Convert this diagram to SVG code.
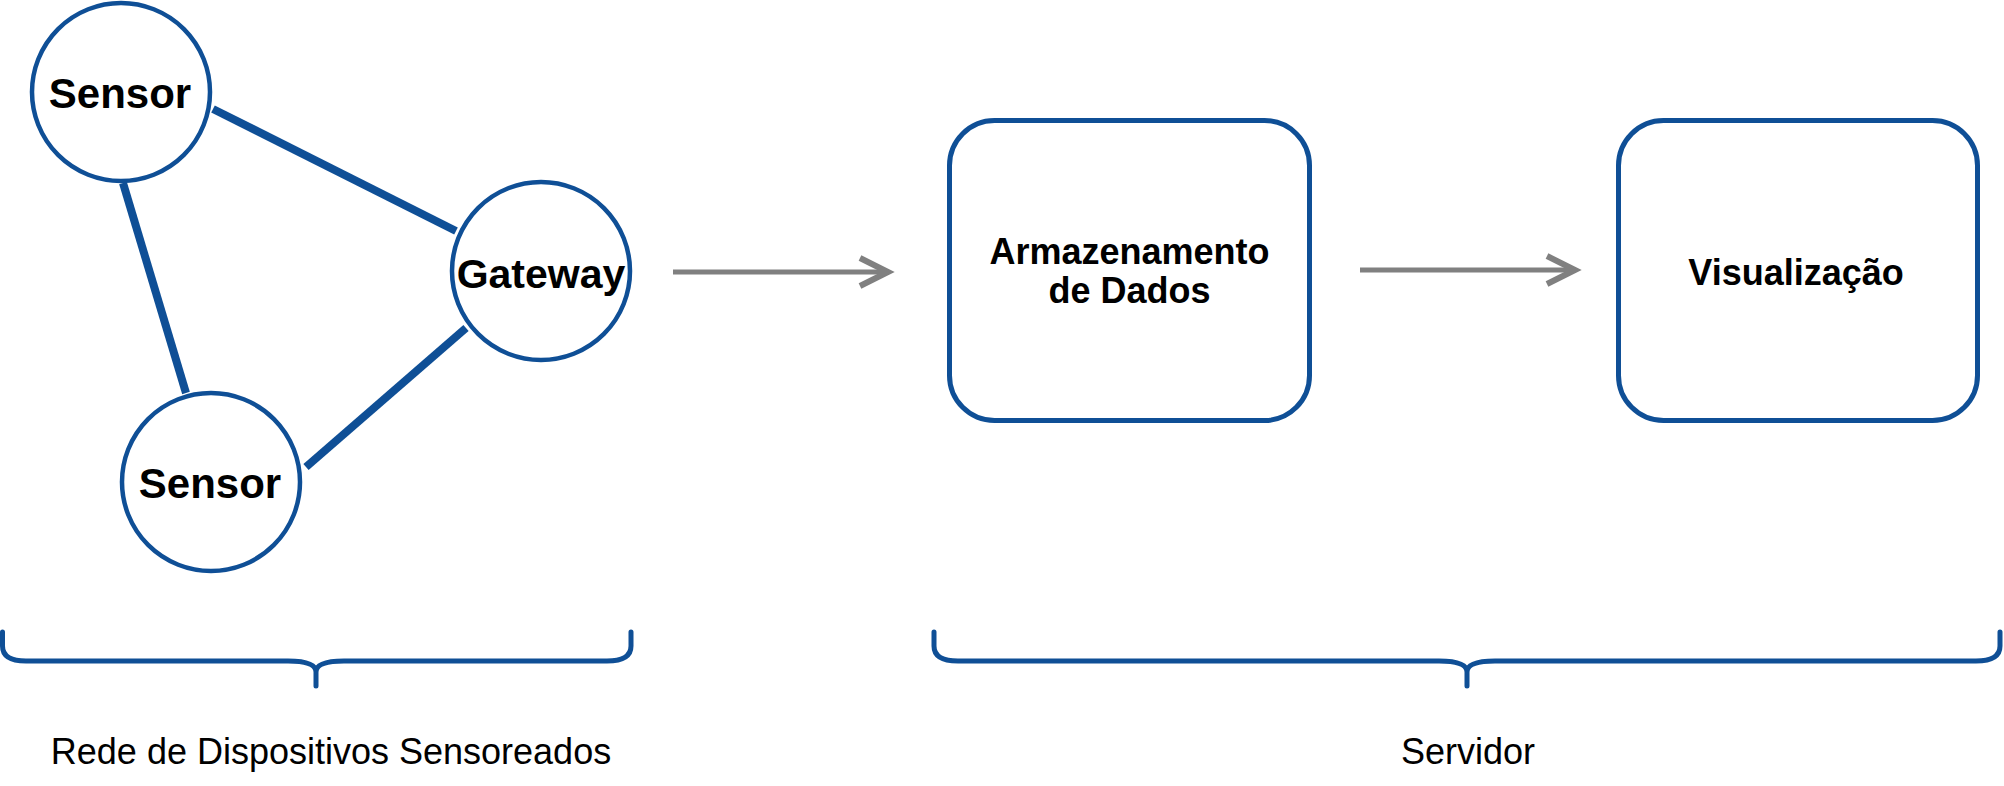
<svg xmlns="http://www.w3.org/2000/svg" width="2004" height="786" viewBox="0 0 2004 786">
<style>
.node{fill:#ffffff;stroke:#0F4F96;stroke-width:4.5}
.box{fill:#ffffff;stroke:#0F4F96;stroke-width:5}
.edge{stroke:#0F4F96;stroke-width:8;fill:none}
.arrow{stroke:#808080;stroke-width:5;fill:none}
.brace{stroke:#0F4F96;stroke-width:5;fill:none;stroke-linecap:round}
.lbl{font-family:"Liberation Sans",Arial,Helvetica,sans-serif;font-weight:bold;fill:#000;text-anchor:middle}
.cap{font-family:"Liberation Sans",Arial,Helvetica,sans-serif;font-size:36px;fill:#000;text-anchor:middle}
</style>
<defs>
<marker id="open" markerUnits="userSpaceOnUse" viewBox="0 0 40 40" markerWidth="40" markerHeight="40" refX="32" refY="20" orient="auto">
<path d="M4 6 L32 20 L4 34" fill="none" stroke="#808080" stroke-width="6"/>
</marker>
</defs>
<rect width="2004" height="786" fill="#ffffff"/>
<g id="connectors">
<line class="edge" x1="213" y1="109" x2="456" y2="231"/>
<line class="edge" x1="123" y1="183" x2="186" y2="393"/>
<line class="edge" x1="306" y1="467" x2="466" y2="328"/>
<line class="arrow" x1="673" y1="272" x2="888" y2="272" marker-end="url(#open)"/>
<line class="arrow" x1="1360" y1="270" x2="1575" y2="270" marker-end="url(#open)"/>
</g>
<g id="sensor1">
<circle class="node" cx="121" cy="92" r="89"/>
<text class="lbl" x="120" y="108" font-size="42">Sensor</text>
</g>
<g id="gateway">
<circle class="node" cx="541" cy="271" r="89"/>
<text class="lbl" x="541" y="288" font-size="41">Gateway</text>
</g>
<g id="sensor2">
<circle class="node" cx="211" cy="482" r="89"/>
<text class="lbl" x="210" y="498" font-size="42">Sensor</text>
</g>
<g id="armazenamento">
<rect class="box" x="949.5" y="120.5" width="360" height="300" rx="45" ry="45"/>
<text class="lbl" x="1129.5" y="264" font-size="36">Armazenamento</text>
<text class="lbl" x="1129.5" y="303" font-size="36">de Dados</text>
</g>
<g id="visualizacao">
<rect class="box" x="1618.5" y="120.5" width="359" height="300" rx="45" ry="45"/>
<text class="lbl" x="1796" y="285" font-size="36">Visualização</text>
</g>
<g id="brace-rede">
<path class="brace" d="M2.5 632 L2.5 646 Q2.5 661 26 661 L288 661 Q316 661 316 672 Q316 661 344 661 L607 661 Q631 661 631 646 L631 632 M316 672 L316 686"/>
<text class="cap" x="331" y="764">Rede de Dispositivos Sensoreados</text>
</g>
<g id="brace-servidor">
<path class="brace" d="M934 632 L934 646 Q934 661 958 661 L1439 661 Q1467 661 1467 672 Q1467 661 1495 661 L1976 661 Q2000 661 2000 646 L2000 632 M1467 672 L1467 686"/>
<text class="cap" x="1468" y="764">Servidor</text>
</g>
</svg>
